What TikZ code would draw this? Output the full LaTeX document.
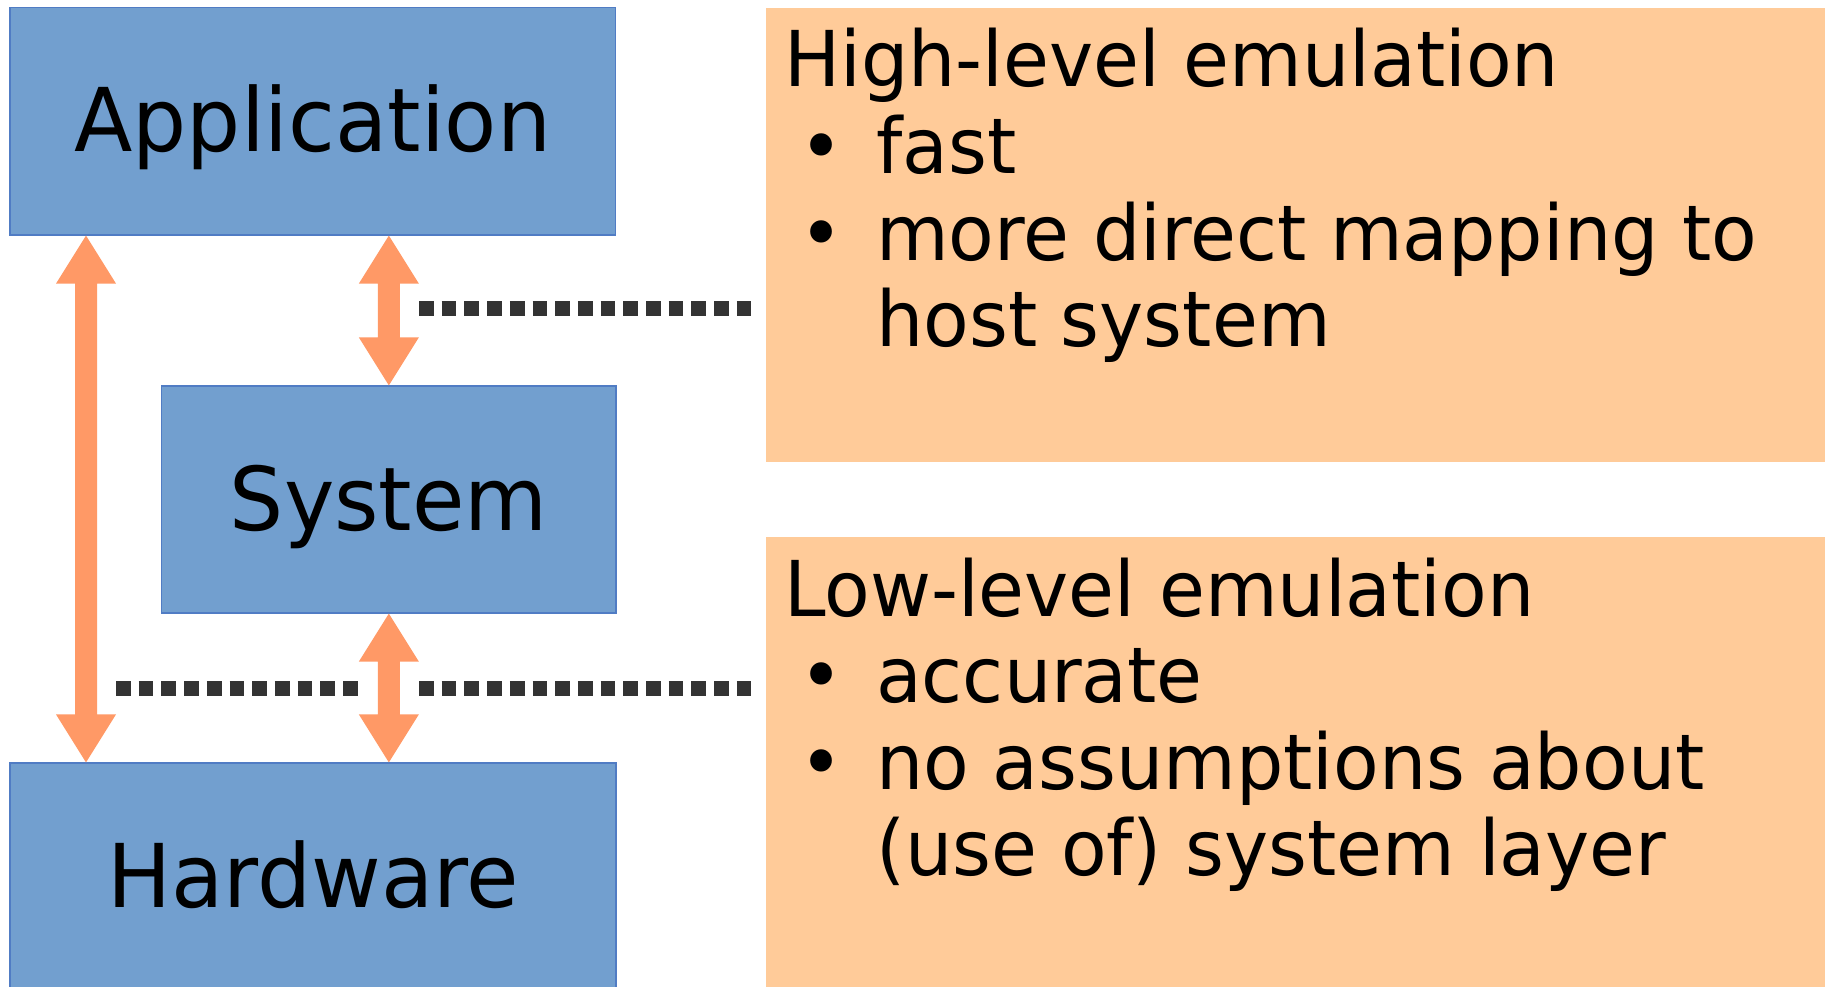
\documentclass[tikz,border=0pt]{standalone}
\usepackage{fontspec}
\setmainfont{DejaVu Sans}[FakeStretch=0.969]
\usetikzlibrary{calc}

\definecolor{layerblue}{RGB}{114,159,207}
\definecolor{layeredge}{RGB}{80,124,196}
\definecolor{notefill}{RGB}{255,203,153}
\definecolor{arrowfill}{RGB}{255,153,102}
\definecolor{dotgrey}{RGB}{51,51,51}

% two-headed block arrow from tip #1 (top) to tip #2 (bottom)
\newcommand\layerarrow[2]{%
  \fill[arrowfill] (#1) -- ($(#1)+(30,48)$) -- ($(#1)+(11,48)$)
    -- ($(#2)+(11,-48)$) -- ($(#2)+(30,-48)$) -- (#2)
    -- ($(#2)+(-30,-48)$) -- ($(#2)+(-11,-48)$)
    -- ($(#1)+(-11,48)$) -- ($(#1)+(-30,48)$) -- cycle;}

\begin{document}
\begin{tikzpicture}[x=1pt,y=-1pt,
  layer/.style={draw=layeredge, line width=1.2pt, fill=layerblue,
    inner sep=0pt, font=\fontsize{88}{100}\selectfont,
    text height=61pt, text depth=0pt},
  note/.style={fill=notefill, inner sep=0pt, minimum width=1059pt,
    minimum height=453.7pt},
  notetext/.style={anchor=base west, inner sep=0pt,
    font=\fontsize{77}{86}\selectfont},
  bulletmark/.style={anchor=base, inner sep=0pt,
    font=\fontsize{77}{86}\selectfont},
  dotline/.style={draw=dotgrey, line width=15pt,
    dash pattern=on 14.7pt off 8pt}]

\clip (0,0) rectangle (1826,987);
\fill[white] (0,0) rectangle (1826,987);

% layer stack
\node[layer, minimum width=605.5pt, minimum height=227.7pt] (app) at (312.75,121.15) {Application};
\node[layer, minimum width=454.3pt, minimum height=227pt] (sys) at (388.85,499.5) {System};
\node[layer, minimum width=606pt, minimum height=227pt] (hw) at (313,876.5) {Hardware};

% emulation notes
\node[note] (hln) at (1295.5,234.85) {};
\node[note] (lln) at (1295.5,764.15) {};

\node[notetext] (hl0) at (784,87) {High-level emulation};
\node[bulletmark] (hlb1) at (821.5,173.5) {•};
\node[notetext] (hl1) at (876,173.5) {fast};
\node[bulletmark] (hlb2) at (821.5,260) {•};
\node[notetext] (hl2) at (876,260) {more direct mapping to};
\node[notetext] (hl3) at (876,346.5) {host system};

\node[notetext] (ll0) at (784,616) {Low-level emulation};
\node[bulletmark] (llb1) at (821.5,702.5) {•};
\node[notetext] (ll1) at (876,702.5) {accurate};
\node[bulletmark] (llb2) at (821.5,789) {•};
\node[notetext] (ll2) at (876,789) {no assumptions about};
\node[notetext] (ll3) at (876,875.5) {(use of) system layer};

% interaction arrows
\coordinate (lx) at (86,0);
\layerarrow{app.south -| lx}{hw.north -| lx}
\layerarrow{app.south -| sys.north}{sys.north}
\layerarrow{sys.south}{hw.north -| sys.south}

% dotted level markers
\coordinate (hi-a) at (419,308.5);
\coordinate (hi-b) at (751.3,308.5);
\coordinate (lo-a) at (116,688.5);
\coordinate (lo-b) at (357.7,688.5);
\coordinate (lo-c) at (419,688.5);
\coordinate (lo-d) at (751.3,688.5);
\draw[dotline] (hi-a) -- (hi-b);
\draw[dotline] (lo-a) -- (lo-b);
\draw[dotline] (lo-c) -- (lo-d);

\end{tikzpicture}
\end{document}
